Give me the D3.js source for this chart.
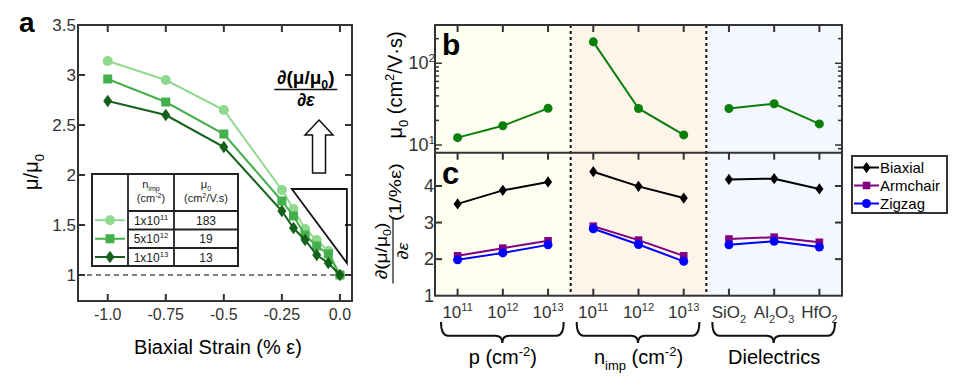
<!DOCTYPE html>
<html>
<head>
<meta charset="utf-8">
<script src="https://cdn.jsdelivr.net/npm/d3@7"></script>
<style>
body { margin: 0; background: #fff; }
text { font-family: "Liberation Sans", Arial, sans-serif; }
</style>
</head>
<body>
<div id="canvas"></div>
<script>
// ---- data panel a
const strain = [-1.0, -0.75, -0.5, -0.25, -0.2, -0.15, -0.1, -0.05, 0];
const ratioLow = [3.14, 2.95, 2.65, 1.85, 1.66, 1.46, 1.35, 1.24, 1.0];
const ratioMid = [2.96, 2.73, 2.41, 1.74, 1.59, 1.40, 1.29, 1.21, 1.0];
const ratioHigh = [2.74, 2.60, 2.28, 1.64, 1.47, 1.35, 1.20, 1.12, 1.0];
const aTicksX = [-1.0, -0.75, -0.5, -0.25, 0];
const aTickLabelsX = ["-1.0", "-0.75", "-0.5", "-0.25", "0.0"];
const aTicksY = [1, 1.5, 2, 2.5, 3, 3.5];
const aTickLabelsY = ["1", "1.5", "2", "2.5", "3", "3.5"];
const nimpBase = ["1x10", "5x10", "1x10"];
const nimpExp = ["11", "12", "13"];
const mu0Table = ["183", "19", "13"];

// ---- data panels b, c
const categories = ["p11", "p12", "p13", "n11", "n12", "n13", "SiO2", "Al2O3", "HfO2"];
const catLabels = [
  [["10"], ["11", "sup"]], [["10"], ["12", "sup"]], [["10"], ["13", "sup"]],
  [["10"], ["11", "sup"]], [["10"], ["12", "sup"]], [["10"], ["13", "sup"]],
  [["SiO"], ["2", "sub"]], [["Al"], ["2", "sub"], ["O"], ["3", "sub"]], [["HfO"], ["2", "sub"]]
];
const mu0 = [12.3, 17.2, 28.1, 183, 28, 13.3, 28, 32, 18.1];
const biaxial = [3.51, 3.88, 4.11, 4.39, 3.99, 3.67, 4.18, 4.20, 3.92];
const armchair = [2.09, 2.30, 2.50, 2.90, 2.52, 2.09, 2.55, 2.60, 2.46];
const zigzag = [1.98, 2.17, 2.39, 2.83, 2.40, 1.94, 2.39, 2.49, 2.33];
const groupNames = [
  [["p (cm"], ["-2", "sup"], [")"]],
  [["n"], ["imp", "sub"], [" (cm"], ["-2", "sup"], [")"]],
  [["Dielectrics"]]
];
const groupFills = ["#fefef1", "#fdf4ea", "#f4f8fe"];
const cTicks = [1, 2, 3, 4];
const bTicks = [10, 100];

const svg = d3.select('#canvas').append('svg')
  .attr('width', 967)
  .attr('height', 389);

// tekst met sub/superscript
function rich(t, parts, size) {
  let shift = 0;
  parts.forEach(function(p) {
    const ts = t.append('tspan').text(p[0]);
    let target = 0;
    if (p[1] === 'sup') { target = -0.4 * size; ts.attr('font-size', 0.65 * size); }
    else if (p[1] === 'sub') { target = 0.28 * size; ts.attr('font-size', 0.65 * size); }
    if (target !== shift) ts.attr('dy', target - shift);
    shift = target;
  });
  return t;
}

function marker(g, type, x, y, color, s) {
  if (type === 'circle') {
    g.append('circle').attr('cx', x).attr('cy', y).attr('r', s).attr('fill', color);
  } else if (type === 'square') {
    g.append('rect').attr('x', x - s).attr('y', y - s).attr('width', 2 * s).attr('height', 2 * s).attr('fill', color);
  } else {
    g.append('path').attr('d', `M${x},${y - s * 1.25}L${x + s * 0.9},${y}L${x},${y + s * 1.25}L${x - s * 0.9},${y}Z`).attr('fill', color);
  }
}

// ================= panel a
const xA = d3.scaleLinear().domain([-1.128, 0.052]).range([78, 352]);
const yA = d3.scaleLinear().domain([0.74, 3.5]).range([301, 25]);
const ga = svg.append('g');

ga.append('line')
  .attr('x1', 78).attr('x2', 352)
  .attr('y1', yA(1)).attr('y2', yA(1))
  .attr('stroke', '#555').attr('stroke-width', 1.5).attr('stroke-dasharray', '5,4');

const seriesA = [
  {vals: ratioLow, color: '#8fd98f', type: 'circle', s: 5},
  {vals: ratioMid, color: '#45b04b', type: 'square', s: 4.5},
  {vals: ratioHigh, color: '#15601a', type: 'diamond', s: 5}
];
const lineA = d3.line().x(function(d, i){ return xA(strain[i]); }).y(function(d){ return yA(d); });
seriesA.forEach(function(s) {
  ga.append('path').attr('d', lineA(s.vals)).attr('fill', 'none')
    .attr('stroke', s.color).attr('stroke-width', 2);
  s.vals.forEach(function(v, i) { marker(ga, s.type, xA(strain[i]), yA(v), s.color, s.s); });
});

// frame + ticks a
ga.append('rect').attr('x', 78).attr('y', 25).attr('width', 274).attr('height', 276)
  .attr('fill', 'none').attr('stroke', '#333').attr('stroke-width', 2);
aTicksX.forEach(function(t, i) {
  const x = xA(t);
  ga.append('line').attr('x1', x).attr('x2', x).attr('y1', 25).attr('y2', 32).attr('stroke', '#333').attr('stroke-width', 2);
  ga.append('line').attr('x1', x).attr('x2', x).attr('y1', 301).attr('y2', 294).attr('stroke', '#333').attr('stroke-width', 2);
  ga.append('text').attr('x', x).attr('y', 320).attr('text-anchor', 'middle')
    .attr('font-size', 16).attr('fill', '#333').text(aTickLabelsX[i]);
});
aTicksY.forEach(function(t, i) {
  const y = yA(t);
  ga.append('line').attr('x1', 78).attr('x2', 85).attr('y1', y).attr('y2', y).attr('stroke', '#333').attr('stroke-width', 2);
  ga.append('line').attr('x1', 352).attr('x2', 345).attr('y1', y).attr('y2', y).attr('stroke', '#333').attr('stroke-width', 2);
  ga.append('text').attr('x', 76).attr('y', y + 6).attr('text-anchor', 'end')
    .attr('font-size', 17).attr('fill', '#333').text(aTickLabelsY[i]);
});

ga.append('text').attr('x', 218).attr('y', 354).attr('text-anchor', 'middle')
  .attr('font-size', 20).text('Biaxial Strain (% ε)');
rich(ga.append('text').attr('transform', 'translate(38,172) rotate(-90)').attr('text-anchor', 'middle')
  .attr('font-size', 20), [['μ/μ'], ['0', 'sub']], 20);
ga.append('text').attr('x', 19).attr('y', 32).attr('font-size', 28).attr('font-weight', 'bold').text('a');

// triangle + arrow + derivative
ga.append('path')
  .attr('d', `M${xA(-0.207)},${yA(1.86)}L${xA(0.03)},${yA(1.86)}L${xA(0.03)},${yA(1.12)}Z`)
  .attr('fill', 'none').attr('stroke', '#111').attr('stroke-width', 1.8);
const ax = xA(-0.09), aTop = yA(2.55), aBot = yA(2.02);
ga.append('path')
  .attr('d', `M${ax},${aTop}L${ax + 14},${aTop + 15}L${ax + 6.5},${aTop + 15}L${ax + 6.5},${aBot}L${ax - 6.5},${aBot}L${ax - 6.5},${aTop + 15}L${ax - 14},${aTop + 15}Z`)
  .attr('fill', '#fff').attr('stroke', '#111').attr('stroke-width', 1.5);
const fx = xA(-0.147);
rich(ga.append('text').attr('x', fx).attr('y', 84).attr('text-anchor', 'middle')
  .attr('font-size', 19).attr('font-weight', 'bold'), [['∂(μ/μ'], ['0', 'sub'], [')']], 19);
ga.append('line').attr('x1', fx - 31.5).attr('x2', fx + 31.5).attr('y1', 89.5).attr('y2', 89.5)
  .attr('stroke', '#111').attr('stroke-width', 1.5);
ga.append('text').attr('x', fx).attr('y', 106).attr('text-anchor', 'middle')
  .attr('font-size', 18).attr('font-weight', 'bold').attr('font-style', 'italic').text('∂ε');

// table legend
const tb = ga.append('g');
const colX = [92, 128, 174, 238];
const rowY = [174, 211, 229.5, 248, 266];
tb.append('rect').attr('x', 92).attr('y', 174).attr('width', 146).attr('height', 92)
  .attr('fill', '#fff').attr('stroke', '#222').attr('stroke-width', 2);
colX.slice(1, 3).forEach(function(x) {
  tb.append('line').attr('x1', x).attr('x2', x).attr('y1', 174).attr('y2', 266).attr('stroke', '#222').attr('stroke-width', 1.8);
});
rowY.slice(1, 4).forEach(function(y) {
  tb.append('line').attr('x1', 128).attr('x2', 238).attr('y1', y).attr('y2', y).attr('stroke', '#222').attr('stroke-width', 1.8);
});
rich(tb.append('text').attr('x', 151).attr('y', 188).attr('text-anchor', 'middle').attr('font-size', 11).attr('fill', '#222'),
  [['n'], ['imp', 'sub']], 11);
rich(tb.append('text').attr('x', 151).attr('y', 202).attr('text-anchor', 'middle').attr('font-size', 11).attr('fill', '#222'),
  [['(cm'], ['-2', 'sup'], [')']], 11);
rich(tb.append('text').attr('x', 206).attr('y', 188).attr('text-anchor', 'middle').attr('font-size', 11).attr('fill', '#222'),
  [['μ'], ['0', 'sub']], 11);
rich(tb.append('text').attr('x', 206).attr('y', 202).attr('text-anchor', 'middle').attr('font-size', 11).attr('fill', '#222'),
  [['(cm'], ['2', 'sup'], ['/V.s)']], 11);
seriesA.forEach(function(s, i) {
  const cy = (rowY[i + 1] + rowY[i + 2]) / 2;
  tb.append('line').attr('x1', 95).attr('x2', 125).attr('y1', cy).attr('y2', cy).attr('stroke', s.color).attr('stroke-width', 2);
  marker(tb, s.type, 110, cy, s.color, s.s);
  rich(tb.append('text').attr('x', 151).attr('y', cy + 4.5).attr('text-anchor', 'middle').attr('font-size', 12).attr('fill', '#222'),
    [[nimpBase[i]], [nimpExp[i], 'sup']], 12);
  tb.append('text').attr('x', 206).attr('y', cy + 4.5).attr('text-anchor', 'middle').attr('font-size', 12).attr('fill', '#222').text(mu0Table[i]);
});

// ================= panels b, c
const L = 435, R = 842, T = 25, M = 152.7, B = 295.7;
const xB = d3.scaleBand().domain(categories).range([L, R]);
const cx = function(c) { return xB(c) + xB.bandwidth() / 2; };
const yB = d3.scaleLog().domain([8.05, 294]).range([M, T]);
const yC = d3.scaleLinear().domain([1, 4.91]).range([B, M]);
const gb = svg.append('g');

// achtergrond per groep
[0, 1, 2].forEach(function(g) {
  const x0 = xB(categories[g * 3]), x1 = xB(categories[g * 3 + 2]) + xB.bandwidth();
  gb.append('rect').attr('x', x0).attr('y', T).attr('width', x1 - x0).attr('height', B - T).attr('fill', groupFills[g]);
});
[1, 2].forEach(function(g) {
  const x = xB(categories[g * 3]);
  gb.append('line').attr('x1', x).attr('x2', x).attr('y1', T).attr('y2', B)
    .attr('stroke', '#111').attr('stroke-width', 2).attr('stroke-dasharray', '3,3');
});

// lijnen per groep (niet verbonden tussen groepen)
function drawSeries(vals, yScale, color, type, s) {
  [0, 1, 2].forEach(function(g) {
    const idx = [g * 3, g * 3 + 1, g * 3 + 2];
    const line = d3.line().x(function(i){ return cx(categories[i]); }).y(function(i){ return yScale(vals[i]); });
    gb.append('path').attr('d', line(idx)).attr('fill', 'none').attr('stroke', color).attr('stroke-width', 2);
  });
  vals.forEach(function(v, i) { marker(gb, type, cx(categories[i]), yScale(v), color, s); });
}
drawSeries(mu0, yB, '#0a800a', 'circle', 4.5);
drawSeries(armchair, yC, '#800080', 'square', 3.8);
drawSeries(zigzag, yC, '#0000ff', 'circle', 4.5);
drawSeries(biaxial, yC, '#000', 'diamond', 4.5);

// frame + ticks b/c
gb.append('rect').attr('x', L).attr('y', T).attr('width', R - L).attr('height', B - T)
  .attr('fill', 'none').attr('stroke', '#333').attr('stroke-width', 2);
gb.append('line').attr('x1', L).attr('x2', R).attr('y1', M).attr('y2', M).attr('stroke', '#333').attr('stroke-width', 2);
categories.forEach(function(c, i) {
  const x = cx(c);
  [[T, T + 7], [M, M + 7], [B, B - 7]].forEach(function(p) {
    gb.append('line').attr('x1', x).attr('x2', x).attr('y1', p[0]).attr('y2', p[1]).attr('stroke', '#333').attr('stroke-width', 2);
  });
  rich(gb.append('text').attr('x', x).attr('y', 318).attr('text-anchor', 'middle').attr('font-size', 17).attr('fill', '#333'),
    catLabels[i], 17);
});
const logTicks = yB.ticks().filter(function(t){ return t >= 9 && t <= 294; });
logTicks.forEach(function(t) {
  const major = bTicks.indexOf(t) >= 0;
  const len = major ? 7 : 4;
  const y = yB(t);
  gb.append('line').attr('x1', L).attr('x2', L + len).attr('y1', y).attr('y2', y).attr('stroke', '#333').attr('stroke-width', 1.5);
  gb.append('line').attr('x1', R).attr('x2', R - len).attr('y1', y).attr('y2', y).attr('stroke', '#333').attr('stroke-width', 1.5);
});
bTicks.forEach(function(t) {
  rich(gb.append('text').attr('x', 435).attr('y', yB(t) + 6).attr('text-anchor', 'end').attr('font-size', 18).attr('fill', '#333'),
    [['10'], [String(Math.log10(t)), 'sup']], 18);
});
cTicks.forEach(function(t) {
  const y = yC(t);
  if (t > 1) {
    gb.append('line').attr('x1', L).attr('x2', L + 7).attr('y1', y).attr('y2', y).attr('stroke', '#333').attr('stroke-width', 2);
    gb.append('line').attr('x1', R).attr('x2', R - 7).attr('y1', y).attr('y2', y).attr('stroke', '#333').attr('stroke-width', 2);
  }
  gb.append('text').attr('x', 434).attr('y', y + 6).attr('text-anchor', 'end').attr('font-size', 18).attr('fill', '#333').text(t);
});

gb.append('text').attr('x', 442).attr('y', 55).attr('font-size', 30).attr('font-weight', 'bold').text('b');
gb.append('text').attr('x', 442).attr('y', 184).attr('font-size', 31).attr('font-weight', 'bold').text('c');

// y titels
rich(gb.append('text').attr('transform', 'translate(402,85) rotate(-90)').attr('text-anchor', 'middle').attr('font-size', 20),
  [['μ'], ['0', 'sub'], [' (cm'], ['2', 'sup'], ['/V·s)']], 20);
const yl = gb.append('g').attr('transform', 'translate(393,251) rotate(-90) scale(1.2,1)');
rich(yl.append('text').attr('x', 0).attr('y', -6).attr('text-anchor', 'middle').attr('font-size', 16),
  [['∂(μ/μ'], ['0', 'sub'], [')']], 16);
yl.append('line').attr('x1', -27).attr('x2', 27).attr('y1', 0).attr('y2', 0).attr('stroke', '#111').attr('stroke-width', 1.2);
yl.append('text').attr('x', 0).attr('y', 15).attr('text-anchor', 'middle').attr('font-size', 15).attr('font-style', 'italic').text('∂ε');
yl.append('text').attr('x', 25).attr('y', 8).attr('font-size', 17).text('(1/%ε)');

// accolades
function brace(x1, x2, y, h) {
  const m = (x1 + x2) / 2, q = 7, hy = y + h * 0.65;
  return `M${x1},${y}Q${x1},${hy} ${x1 + q},${hy}L${m - q},${hy}Q${m},${hy} ${m},${y + h}Q${m},${hy} ${m + q},${hy}L${x2 - q},${hy}Q${x2},${hy} ${x2},${y}`;
}
[0, 1, 2].forEach(function(g) {
  const x0 = xB(categories[g * 3]) + 6, x1 = xB(categories[g * 3 + 2]) + xB.bandwidth() - 7;
  gb.append('path').attr('d', brace(x0, x1, 322, 21)).attr('fill', 'none').attr('stroke', '#111').attr('stroke-width', 2);
  rich(gb.append('text').attr('x', cx(categories[g * 3 + 1])).attr('y', 364).attr('text-anchor', 'middle').attr('font-size', 20),
    groupNames[g], 20);
});

// legenda c
const lg = svg.append('g');
lg.append('rect').attr('x', 852).attr('y', 156).attr('width', 95).attr('height', 57)
  .attr('fill', '#fff').attr('stroke', '#333').attr('stroke-width', 2);
const legendItems = [['Biaxial', '#000', 'diamond', 4.5], ['Armchair', '#800080', 'square', 3.8], ['Zigzag', '#0000ff', 'circle', 4.5]];
legendItems.forEach(function(d, i) {
  const y = 167.5 + i * 18;
  lg.append('line').attr('x1', 854).attr('x2', 879).attr('y1', y).attr('y2', y).attr('stroke', d[1]).attr('stroke-width', 2);
  marker(lg, d[2], 866.5, y, d[1], d[3]);
  lg.append('text').attr('x', 880).attr('y', y + 5).attr('font-size', 15).text(d[0]);
});
</script>
</body>
</html>
